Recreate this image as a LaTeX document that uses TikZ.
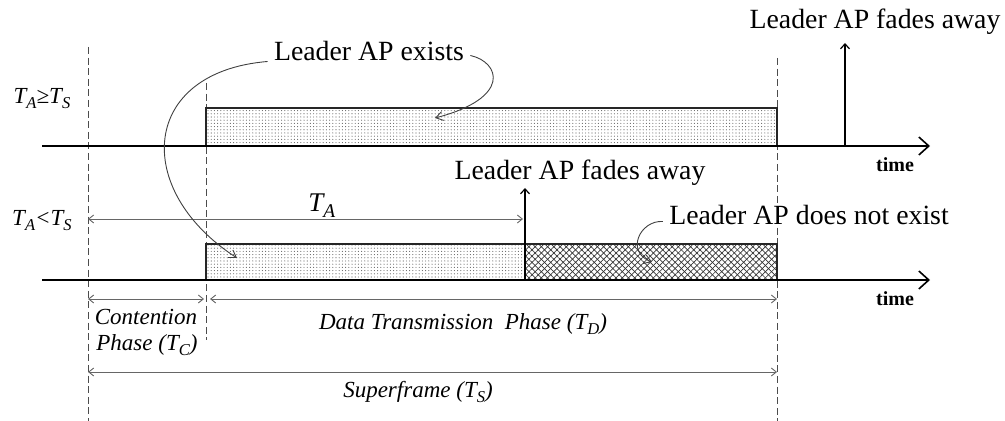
\documentclass[tikz,border=0pt]{standalone}
\usepackage{fontspec}
\setmainfont{Liberation Serif}
\usetikzlibrary{arrows.meta,patterns.meta}
\newcommand{\lowsub}[1]{\raisebox{-0.45ex}{\scalebox{0.72}{#1}}}
\begin{document}
\begin{tikzpicture}[x=0.5pt,y=-0.5pt,
  dashv/.style={draw=black!70, dash pattern=on 3.5pt off 1.8pt, line width=0.5pt},
  timeaxis/.style={line width=1pt, -{Straight Barb[length=5pt,width=9pt,line width=0.8pt]}},
  varrow/.style={line width=0.8pt, -{Straight Barb[length=2.5pt,width=4.5pt,line width=0.6pt]}},
  dimline/.style={draw=black!60, line width=0.45pt, {Straight Barb[length=2.5pt,width=4pt]}-{Straight Barb[length=2.5pt,width=4pt]}},
  curvearrow/.style={draw=black!75, line width=0.45pt, -{Straight Barb[length=3.5pt,width=4.5pt]}},
  boxline/.style={draw=black!85, line width=0.6pt},
  dotfill/.style={pattern={Dots[distance=1.6pt,radius=0.28pt]}, pattern color=black!60},
  bigtxt/.style={font=\fontsize{13.9}{16}\selectfont, inner sep=0pt, anchor=base},
  itxt/.style={font=\fontsize{11.5}{13}\selectfont\itshape, inner sep=0pt, anchor=base},
  timetxt/.style={font=\fontsize{10}{12}\selectfont\bfseries, inner sep=0pt, anchor=base},
  condtxt/.style={font=\fontsize{11.5}{13}\selectfont\itshape, inner sep=0pt, anchor=base}]
\useasboundingbox (0,0) rectangle (1005,421);

% dashed phase boundaries
\coordinate (d1t) at (88,47);  \coordinate (d1b) at (88,421);
\coordinate (d2t) at (206,83); \coordinate (d2b) at (206,340);
\coordinate (d3t) at (777,58); \coordinate (d3b) at (777,421);
\draw[dashv] (d1t) -- (d1b);
\draw[dashv] (d2t) -- (d2b);
\draw[dashv] (d3t) -- (d3b);

% top case
\draw[boxline, dotfill] (206,108) rectangle (777,146);
\coordinate (ax1s) at (42,146); \coordinate (ax1e) at (930,146);
\draw[timeaxis] (ax1s) -- (ax1e);
\node[timetxt] (time1) at (895,172) {time};
\node[condtxt] (cond1) at (42,104) {T\lowsub{A}≥T\lowsub{S}};
\coordinate (f1b) at (845,146); \coordinate (f1t) at (845,43);
\draw[varrow] (f1b) -- (f1t);
\node[bigtxt] (fade1) at (875,29) {Leader AP fades away};
\node[bigtxt] (exists) at (369,61) {Leader AP exists};

% bottom case
\draw[boxline, dotfill] (206,244) rectangle (525,280);
\fill[pattern={Lines[angle=45,distance=2.2pt,line width=0.35pt]}, pattern color=black!80] (525,244) rectangle (777,280);
\fill[pattern={Lines[angle=-45,distance=2.2pt,line width=0.35pt]}, pattern color=black!80] (525,244) rectangle (777,280);
\draw[boxline] (525,244) rectangle (777,280);
\coordinate (ax2s) at (42,280); \coordinate (ax2e) at (930,280);
\draw[timeaxis] (ax2s) -- (ax2e);
\node[timetxt] (time2) at (895,306) {time};
\node[condtxt] (cond2) at (42,226) {T\lowsub{A}<T\lowsub{S}};
\coordinate (f2b) at (525,280); \coordinate (f2t) at (525,188);
\draw[varrow] (f2b) -- (f2t);
\node[bigtxt] (fade2) at (580,180) {Leader AP fades away};
\node[bigtxt] (notexist) at (809,225) {Leader AP does not exist};

% T_A
\coordinate (ta1) at (88,219); \coordinate (ta2) at (523,219);
\draw[dimline] (ta1) -- (ta2);
\node[font=\fontsize{13.5}{15}\selectfont\itshape, inner sep=0pt, anchor=base west] (talbl) at (308,212) {T\lowsub{A}};

% callout curves
\coordinate (c1) at (237,258);
\coordinate (c2) at (435,118);
\coordinate (c3) at (652,262);
\draw[curvearrow] (exists.west) ++(-3pt,-5pt) coordinate (e1) .. controls (140,72) and (132,190) .. (c1);
\draw[curvearrow] (exists.east) ++(3pt,-2pt) coordinate (e2) .. controls (500,62) and (512,98) .. (c2);
\draw[curvearrow] (notexist.west) ++(-3pt,-3pt) coordinate (e3) .. controls (640,220) and (625,252) .. (c3);

% phase dimensions
\coordinate (tc1) at (88,299); \coordinate (tc2) at (204,299);
\coordinate (td1) at (210,299); \coordinate (td2) at (777,299);
\coordinate (ts1) at (88,372); \coordinate (ts2) at (777,372);
\draw[dimline] (tc1) -- (tc2);
\draw[dimline] (td1) -- (td2);
\draw[dimline] (ts1) -- (ts2);
\node[itxt] (cont1) at (146,325) {Contention};
\node[itxt] (cont2) at (147,351) {Phase (T\lowsub{C})};
\node[itxt] (data) at (463,330) {Data Transmission~ Phase (T\lowsub{D})};
\node[itxt] (super) at (418,398) {Superframe (T\lowsub{S})};
\end{tikzpicture}
\end{document}
